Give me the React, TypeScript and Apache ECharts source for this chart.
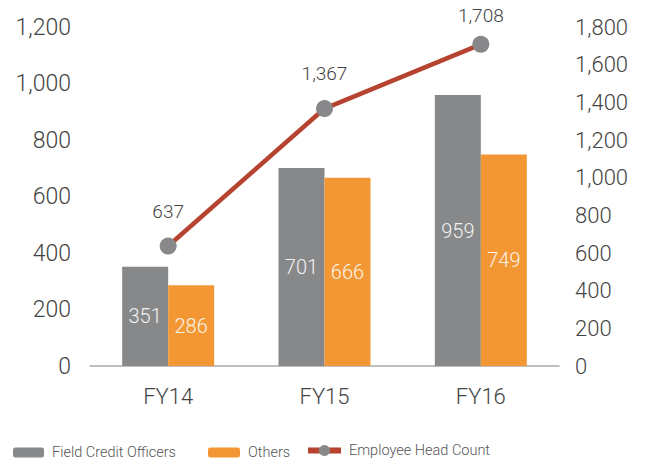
import React, { useEffect, useRef } from "react";
import * as echarts from "echarts";

const categories = ["FY14", "FY15", "FY16"];
const fieldCreditOfficers = [351, 701, 959];
const others = [286, 666, 749];
const employeeHeadCount = [637, 1367, 1708];

const FONT = "Roboto";
const fmt = (v: number) => Number(v).toLocaleString("en-US");

export default function App() {
  const ref = useRef<HTMLDivElement>(null);
  useEffect(() => {
    if (!ref.current) return;
    const chart = echarts.init(ref.current, undefined, { renderer: "svg" });
    const legendText = {
      fontFamily: FONT,
      fontSize: 14.5,
      color: "#555",
      fontWeight: 300,
      padding: [0, 0, 0, 3],
    };
    const lastIdx = employeeHeadCount.length - 1;
    chart.setOption({
      animation: false,
      backgroundColor: "#fff",
      textStyle: { fontFamily: FONT },
      grid: { left: 90, right: 90, top: 27, bottom: 97 },
      legend: [
        {
          data: ["Field Credit Officers"],
          left: 13,
          top: 445,
          padding: 0,
          itemGap: 0,
          itemWidth: 31,
          itemHeight: 10,
          textStyle: legendText,
        },
        {
          data: ["Others"],
          left: 208,
          top: 445,
          padding: 0,
          itemWidth: 32,
          itemHeight: 10,
          textStyle: legendText,
        },
        {
          data: [
            {
              name: "Employee Head Count",
              lineStyle: { width: 6, color: "#b5432f" },
            },
          ],
          left: 305,
          top: 443,
          padding: 0,
          itemWidth: 33,
          itemHeight: 14,
          textStyle: legendText,
        },
      ],
      xAxis: {
        type: "category",
        data: categories,
        axisLine: { lineStyle: { color: "#aaaaaa", width: 1.5 } },
        axisTick: { show: false },
        axisLabel: { fontFamily: FONT, fontSize: 22, color: "#444", fontWeight: 300, margin: 19 },
      },
      yAxis: [
        {
          type: "value",
          min: 0,
          max: 1200,
          interval: 200,
          axisLine: { show: false },
          axisTick: { show: false },
          splitLine: { show: false },
          axisLabel: {
            fontFamily: FONT,
            fontSize: 23,
            color: "#444",
            fontWeight: 300,
            margin: 19,
            formatter: fmt,
          },
        },
        {
          type: "value",
          min: 0,
          max: 1800,
          interval: 200,
          position: "right",
          axisLine: { show: false },
          axisTick: { show: false },
          splitLine: { show: false },
          axisLabel: {
            fontFamily: FONT,
            fontSize: 22,
            color: "#444",
            fontWeight: 300,
            margin: 16,
            formatter: fmt,
          },
        },
      ],
      series: [
        {
          name: "Field Credit Officers",
          type: "bar",
          data: fieldCreditOfficers,
          barWidth: 46,
          barGap: "0%",
          itemStyle: { color: "#87888a" },
          label: {
            show: true,
            position: "inside",
            color: "#f2f2f2",
            fontFamily: FONT,
            fontSize: 20,
            fontWeight: 300,
          },
        },
        {
          name: "Others",
          type: "bar",
          data: others,
          barWidth: 46,
          barGap: "0%",
          itemStyle: { color: "#f29734" },
          label: {
            show: true,
            position: "inside",
            color: "#fbf3e8",
            fontFamily: FONT,
            fontSize: 20,
            fontWeight: 300,
          },
        },
        {
          name: "Employee Head Count",
          type: "line",
          yAxisIndex: 1,
          data: employeeHeadCount.map((v, i) =>
            i === lastIdx ? { value: v, label: { distance: 11 } } : v
          ),
          symbol: "circle",
          symbolSize: 17,
          lineStyle: { color: "#b5432f", width: 4.5 },
          itemStyle: { color: "#88888a", borderWidth: 0 },
          label: {
            show: true,
            position: "top",
            distance: 17,
            color: "#444",
            fontFamily: FONT,
            fontSize: 19,
            fontWeight: 300,
            formatter: (p: any) => fmt(p.value),
          },
          z: 5,
        },
      ],
    });
    return () => chart.dispose();
  }, []);
  return (
    <div
      ref={ref}
      style={{ position: "fixed", left: 0, top: 0, width: 649, height: 463 }}
    />
  );
}
